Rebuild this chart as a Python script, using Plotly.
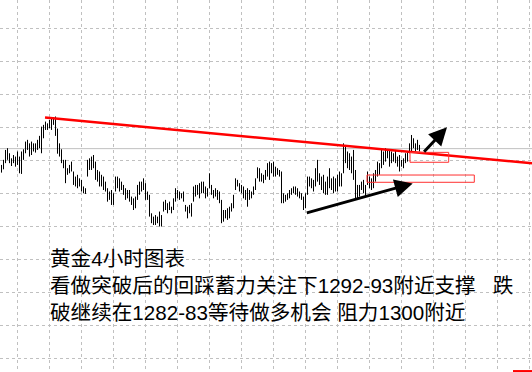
import plotly.graph_objects as go

# ---- data (gold, 4-hour bars; prices) ----
highs = [1287.9, 1290.2, 1294.7, 1295.5, 1293.2, 1290.9, 1292.4, 1291.7, 1294.0, 1291.7,
         1294.0, 1295.0, 1298.5, 1299.3, 1297.7, 1298.5, 1297.7, 1297.7, 1299.3, 1301.1,
         1305.3, 1306.1, 1307.6, 1306.8, 1308.4, 1309.1, 1309.6, 1309.9, 1304.4, 1297.7,
         1295.0, 1290.2, 1290.2, 1286.4, 1287.9, 1289.4, 1284.9, 1282.6, 1283.4, 1281.8,
         1281.1, 1278.1, 1277.3, 1290.2, 1290.9, 1291.7, 1292.4, 1289.4, 1285.6, 1284.9,
         1283.4, 1282.6, 1280.3, 1277.3, 1275.8, 1276.5, 1275.0, 1282.6, 1282.6, 1281.8,
         1280.3, 1278.8, 1277.3, 1276.5, 1276.5, 1273.5, 1272.7, 1273.5, 1278.8, 1280.3,
         1280.3, 1281.8, 1279.6, 1275.8, 1274.3, 1265.9, 1264.4, 1265.1, 1264.4, 1266.7,
         1265.1, 1271.2, 1272.0, 1270.5, 1271.2, 1268.9, 1272.7, 1277.3, 1276.5, 1275.8,
         1275.0, 1275.8, 1269.7, 1268.9, 1269.7, 1270.5, 1278.1, 1278.8, 1278.8, 1279.6,
         1280.3, 1280.3, 1278.1, 1277.3, 1284.1, 1278.8, 1276.5, 1277.3, 1276.5, 1275.8,
         1272.0, 1267.4, 1267.4, 1268.2, 1268.9, 1270.5, 1274.3, 1281.8, 1281.1, 1279.6,
         1278.8, 1278.1, 1276.5, 1277.3, 1276.5, 1275.8, 1278.1, 1281.8, 1286.8, 1286.4,
         1284.1, 1283.4, 1285.6, 1288.7, 1289.4, 1288.7, 1289.4, 1287.1, 1286.4, 1285.6,
         1284.9, 1275.0, 1274.3, 1275.0, 1276.5, 1277.3, 1278.1, 1278.1, 1277.3, 1275.8,
         1275.0, 1273.5, 1275.0, 1282.6, 1282.6, 1281.8, 1281.1, 1286.4, 1290.2, 1284.1,
         1282.6, 1283.4, 1280.3, 1282.6, 1286.4, 1281.8, 1282.6, 1281.8, 1283.4, 1284.9,
         1284.1, 1297.7, 1296.2, 1294.0, 1293.2, 1291.7, 1294.7, 1285.6, 1278.8, 1278.8,
         1280.3, 1281.1, 1278.8, 1284.9, 1282.6, 1281.8, 1284.1, 1285.6, 1289.4, 1288.7,
         1294.7, 1294.0, 1295.5, 1294.7, 1294.7, 1294.0, 1293.2, 1294.7, 1291.7, 1292.4,
         1290.2, 1290.9, 1293.2, 1294.0, 1297.7, 1301.5, 1300.0, 1297.7, 1299.3, 1297.0]

lows = [1284.4, 1285.9, 1288.7, 1290.2, 1288.7, 1287.4, 1288.7, 1287.1, 1287.9, 1284.1,
        1283.8, 1290.2, 1293.2, 1294.7, 1291.7, 1292.4, 1294.0, 1293.5, 1294.7, 1295.5,
        1293.2, 1300.0, 1303.8, 1303.8, 1304.6, 1303.8, 1306.1, 1301.1, 1293.0, 1291.7,
        1288.7, 1286.4, 1279.6, 1283.4, 1284.1, 1284.9, 1278.8, 1278.1, 1277.3, 1278.1,
        1275.8, 1275.0, 1274.7, 1282.6, 1285.6, 1285.6, 1286.4, 1281.1, 1280.3, 1278.1,
        1278.1, 1276.5, 1275.8, 1271.2, 1272.0, 1269.7, 1269.7, 1275.8, 1277.3, 1275.8,
        1276.5, 1274.3, 1272.0, 1272.7, 1271.2, 1269.7, 1267.4, 1268.2, 1272.0, 1274.3,
        1275.8, 1276.5, 1272.0, 1272.0, 1264.4, 1261.4, 1260.6, 1260.6, 1261.4, 1259.9,
        1259.9, 1266.7, 1267.4, 1265.9, 1267.4, 1265.9, 1267.4, 1271.2, 1272.7, 1272.0,
        1272.7, 1271.2, 1266.7, 1263.6, 1265.9, 1264.4, 1271.2, 1273.5, 1274.3, 1272.7,
        1275.0, 1275.0, 1272.7, 1273.5, 1277.3, 1274.3, 1272.7, 1273.5, 1272.0, 1270.5,
        1261.4, 1262.1, 1263.6, 1262.9, 1263.6, 1266.7, 1268.2, 1276.5, 1278.1, 1275.8,
        1275.0, 1272.7, 1272.0, 1268.9, 1272.0, 1272.7, 1274.3, 1276.5, 1281.8, 1280.3,
        1280.3, 1279.6, 1281.1, 1282.6, 1281.1, 1284.1, 1282.6, 1282.6, 1283.4, 1282.6,
        1270.5, 1270.5, 1271.2, 1272.0, 1272.7, 1274.3, 1275.0, 1274.3, 1273.5, 1272.7,
        1272.0, 1267.4, 1268.2, 1274.3, 1278.1, 1277.3, 1275.8, 1278.1, 1280.3, 1278.8,
        1276.5, 1275.0, 1274.3, 1274.3, 1277.3, 1276.5, 1275.0, 1275.8, 1275.8, 1278.1,
        1278.1, 1284.1, 1288.7, 1286.4, 1285.6, 1284.1, 1281.1, 1272.7, 1272.0, 1273.5,
        1276.5, 1275.0, 1273.5, 1278.8, 1277.3, 1276.5, 1277.3, 1280.3, 1282.6, 1283.4,
        1286.4, 1287.9, 1289.4, 1290.9, 1287.1, 1288.7, 1289.4, 1288.7, 1287.1, 1284.9,
        1287.1, 1286.4, 1288.7, 1289.4, 1293.2, 1294.0, 1295.5, 1294.0, 1294.7, 1294.0]

bar_index = list(range(len(highs)))

current_price = 1295.3
trend_x = [21.75, 265.25]
trend_y = [1309.4, 1288.6]

arrow_tail_x = [151.9, 210.6]
arrow_tail_y = [1265.9, 1293.2]
arrow_head_x = [205.6, 222.75]
arrow_head_y = [1279.5, 1305.0]

zone_x0 = [204.25, 182.75]
zone_x1 = [223.6, 236.4]
zone_y0 = [1289.1, 1280.0]
zone_y1 = [1293.6, 1283.3]

text_lines = ["黄金4小时图表",
              "看做突破后的回踩蓄力关注下1292-93附近支撑   跌",
              "破继续在1282-83等待做多机会 阻力1300附近"]

x_range = [-0.75, 265.25]
y_range = [1193.77, 1362.86]
grid_x = [8 + 16 * k for k in range(17)]
grid_y = [1200 + 15 * k for k in range(11)]

# ---- figure ----
xs, ys = [], []
for i, h, l in zip(bar_index, highs, lows):
    xs += [i, i, None]
    ys += [h, l, None]

fig = go.Figure()
fig.add_trace(go.Scatter(x=xs, y=ys, mode="lines",
                         line=dict(color="black", width=1), hoverinfo="skip"))
fig.add_trace(go.Scatter(x=trend_x, y=trend_y, mode="lines",
                         line=dict(color="#ff0000", width=2.5), hoverinfo="skip"))

# current price line
fig.add_shape(type="line", xref="paper", x0=0, x1=1, yref="y",
              y0=current_price, y1=current_price,
              line=dict(color="#c0c0c0", width=1), layer="below")

# zones
for x0, x1, y0, y1 in zip(zone_x0, zone_x1, zone_y0, zone_y1):
    fig.add_shape(type="rect", x0=x0, x1=x1, y0=y0, y1=y1,
                  line=dict(color="#ff3030", width=1))

# small red mark bottom-right
fig.add_shape(type="line", x0=255.75, x1=265.25, y0=1194.2, y1=1194.2,
              line=dict(color="#ff0000", width=2))

# arrows
for tx, ty, hx, hy in zip(arrow_tail_x, arrow_tail_y, arrow_head_x, arrow_head_y):
    fig.add_annotation(x=hx, y=hy, ax=tx, ay=ty, xref="x", yref="y",
                       axref="x", ayref="y", showarrow=True, text="",
                       arrowhead=2, arrowsize=1.2, arrowwidth=3,
                       arrowcolor="black")

fig.add_annotation(x=48 / 532, y=1 - 285.0 / 372, xref="paper", yref="paper",
                   xanchor="left", yanchor="middle", align="left", showarrow=False,
                   text="<br>".join(text_lines),
                   font=dict(family="Liberation Sans, Noto Sans CJK SC", size=20.6,
                             color="black"))

fig.update_layout(
    width=532, height=372, margin=dict(l=0, r=0, t=0, b=0),
    paper_bgcolor="white", plot_bgcolor="white", showlegend=False,
    xaxis=dict(range=x_range, tickvals=grid_x, showticklabels=False, ticks="",
               showgrid=True, gridcolor="#c0c0c0", gridwidth=1, griddash="3px,3px",
               zeroline=False, showline=False),
    yaxis=dict(range=y_range, tickvals=grid_y, showticklabels=False, ticks="",
               showgrid=True, gridcolor="#c0c0c0", gridwidth=1, griddash="3px,3px",
               zeroline=False, showline=False),
)

fig.write_html("out.html")
